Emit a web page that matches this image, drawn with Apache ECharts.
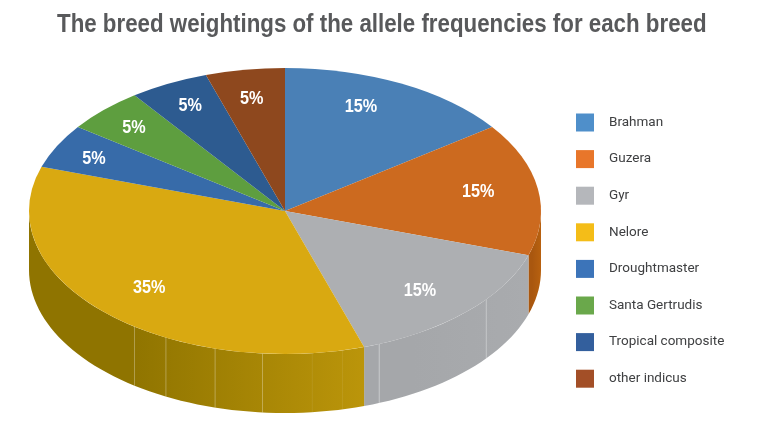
<!DOCTYPE html>
<html><head><meta charset="utf-8">
<style>html,body{margin:0;padding:0;background:#fff}#c{width:768px;height:440px}</style>
<script src="https://cdn.jsdelivr.net/npm/echarts@6/dist/echarts.min.js"></script>
</head><body><div id="c"></div>
<script>
const titleText = 'The breed weightings of the allele frequencies for each breed';
const categories = ['Brahman','Guzera','Gyr','Nelore','Droughtmaster','Santa Gertrudis','Tropical composite','other indicus'];
const shares = [15,15,15,35,5,5,5,5];
const topColors = ['#4a80b6','#cc6a1f','#adafb2','#d9a911','#376ba9','#5e9e3f','#2d5b90','#8e481e'];
const sideLeft = ['#8f5010','#a9570f','#a5a7aa','#8f7400','#2a5080','#4a7a30','#23486f','#6f3816'];
const sideRight = ['#8f5010','#b8610f','#a9abae','#bb950a','#2a5080','#4a7a30','#23486f','#6f3816'];
const legendColors = ['#4f8fca','#e8762a','#b5b7bb','#f4bd18','#3c74b9','#6aa84b','#335f9d','#a34f27'];
// label anchors within the pie: clockwise degrees from 12 o'clock, fraction of radius
const labelAngles = [22.2,80,136.7,224.6,296,314.5,333.2,350.6];
const labelRadii = [.785,.766,.768,.756,.83,.827,.822,.794];
// thin seams on the rim, as cumulative percent around the pie, with their strength
const rimSeams = [35.6,44,46.4,48.3,51.4,54.4,57.7,60];
const rimSeamAlpha = [.35,.4,.08,.08,.3,.3,.3,.3];

const CX=285, CY=211, RX=256, RY=143, DEPTH=59;
const total = shares.reduce((a,b)=>a+b,0);
const rad = d => d*Math.PI/180;
const px = d => CX+RX*Math.sin(rad(d));
const py = d => CY-RY*Math.cos(rad(d));

function rimShape(a,b){
  const pts=[]; const n=Math.max(2,Math.ceil((b-a)/2));
  for(let i=0;i<=n;i++){const d=a+(b-a)*i/n;pts.push([px(d),py(d)]);}
  for(let i=n;i>=0;i--){const d=a+(b-a)*i/n;pts.push([px(d),py(d)+DEPTH]);}
  return pts;
}
function maker(idx){
  return function(params,api){
    const before=shares.slice(0,idx).reduce((a,b)=>a+b,0);
    const start=before/total*360, end=(before+api.value(0))/total*360;
    const kids=[];
    const a=Math.max(start,90), b=Math.min(end,270);
    if(b>a){
      kids.push({type:'polygon',shape:{points:rimShape(a,b)},style:{
        fill:new echarts.graphic.LinearGradient(Math.min(px(a),px(b)),0,Math.max(px(a),px(b)),0,
          [{offset:0,color:sideLeft[idx]},{offset:.3,color:sideLeft[idx]},{offset:1,color:sideRight[idx]}],true)}});
      rimSeams.forEach((p,k)=>{
        const d=p/100*360;
        if(d>a&&d<b) kids.push({type:'line',shape:{x1:px(d),y1:py(d),x2:px(d),y2:py(d)+DEPTH},
          style:{stroke:'rgba(255,255,255,'+rimSeamAlpha[k]+')',lineWidth:1}});
      });
    }
    kids.push({type:'sector',x:CX,y:CY,scaleX:1,scaleY:RY/RX,
      shape:{cx:0,cy:0,r:RX,r0:0,startAngle:rad(start-90),endAngle:rad(end-90),clockwise:true},
      style:{fill:topColors[idx]}});
    const la=labelAngles[idx], lr=labelRadii[idx];
    kids.push({type:'text',z2:10,
      x:CX+RX*lr*Math.sin(rad(la)),y:CY-RY*lr*Math.cos(rad(la)),scaleX:.9,
      style:{x:0,y:0,text:api.value(0)+'%',fill:'#fff',align:'center',verticalAlign:'middle',
        font:'bold 18px "Liberation Sans"'}});
    return {type:'group',children:kids};
  };
}
const chart=echarts.init(document.getElementById('c'),null,{renderer:'canvas'});
chart.setOption({
  animation:false,backgroundColor:'#fff',
  graphic:[{type:'text',x:57,y:12,scaleX:.858,
    style:{text:titleText,fill:'#58595b',font:'bold 26px "Liberation Sans"'}}],
  legend:{orient:'vertical',left:576,top:113.5,padding:0,itemWidth:18,itemHeight:18,itemGap:18.6,icon:'rect',
    data:categories,
    textStyle:{fontFamily:'Roboto',fontSize:13.5,color:'#3f4042',padding:[0,0,0,10]}},
  series:categories.map((name,i)=>({
    type:'custom',name,coordinateSystem:'none',silent:true,
    itemStyle:{color:legendColors[i]},
    data:[[shares[i]]],
    renderItem:maker(i)
  }))
});
</script></body></html>
